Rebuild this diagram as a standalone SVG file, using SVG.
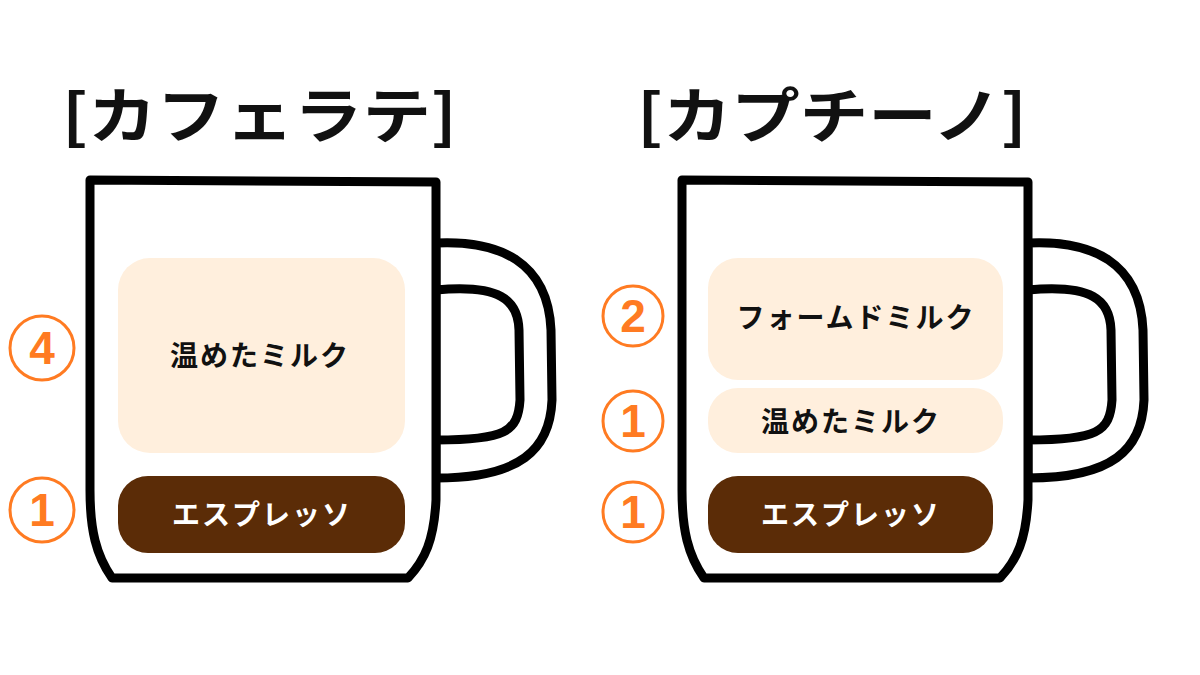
<svg xmlns="http://www.w3.org/2000/svg" width="1200" height="675" viewBox="0 0 1200 675">
<defs>
<style>
.t{font-family:"Noto Sans CJK JP","Noto Sans",sans-serif;font-weight:bold}
.title{font-size:60px;fill:#111}
.lbl{font-size:28px;text-anchor:middle;letter-spacing:2px}
.mug{fill:#fff;stroke:#000;stroke-width:9;stroke-linejoin:round}
.milk{fill:#ffefdd}
.esp{fill:#5b2c07}
.num{fill:none;stroke:#ff7b22;stroke-width:3}
.n{font-family:"Liberation Sans",sans-serif;font-weight:bold;font-size:46px;fill:#ff7b22;text-anchor:middle}
</style>
<g id="mugshape">
<path class="mug" d="M436,243 C500,240 548,262 551,330 L552,400 C550,450 520,478 436,478 L436,290 C500,284 518,300 519,330 L520,400 C518,432 505,440 436,440 Z"/>
<path class="mug" d="M90,180 L436,182 L436,500 C434,540 425,560 408,578 L112,578 C96,555 90,530 90,490 Z"/>
</g>
</defs>
<g id="latte">
<text class="t title" x="62" y="138" textLength="395" lengthAdjust="spacingAndGlyphs">[カフェラテ]</text>
<use href="#mugshape"/>
<rect class="milk" x="118" y="258" width="287" height="195" rx="32"/>
<text class="t lbl" x="260" y="366" fill="#111">温めたミルク</text>
<rect class="esp" x="118" y="476" width="287" height="77" rx="30"/>
<text class="t lbl" x="262" y="525" fill="#fff">エスプレッソ</text>
<circle class="num" cx="42" cy="348" r="32"/><text class="n" x="42" y="364">4</text>
<circle class="num" cx="42" cy="510" r="32"/><text class="n" x="42" y="526">1</text>
</g>
<g id="cappuccino">
<text class="t title" x="637" y="138" textLength="390" lengthAdjust="spacingAndGlyphs">[カプチーノ]</text>
<use href="#mugshape" transform="translate(592,0)"/>
<rect class="milk" x="708" y="258" width="295" height="122" rx="30"/>
<text class="t lbl" x="856" y="328" fill="#111">フォームドミルク</text>
<rect class="milk" x="708" y="388" width="295" height="65" rx="30"/>
<text class="t lbl" x="851" y="432" fill="#111">温めたミルク</text>
<rect class="esp" x="708" y="476" width="285" height="77" rx="30"/>
<text class="t lbl" x="851" y="525" fill="#fff">エスプレッソ</text>
<circle class="num" cx="633" cy="316" r="30"/><text class="n" x="633" y="332">2</text>
<circle class="num" cx="633" cy="421" r="30"/><text class="n" x="633" y="437">1</text>
<circle class="num" cx="633" cy="512" r="30"/><text class="n" x="633" y="528">1</text>
</g>
<g id="connectors"/>
</svg>
